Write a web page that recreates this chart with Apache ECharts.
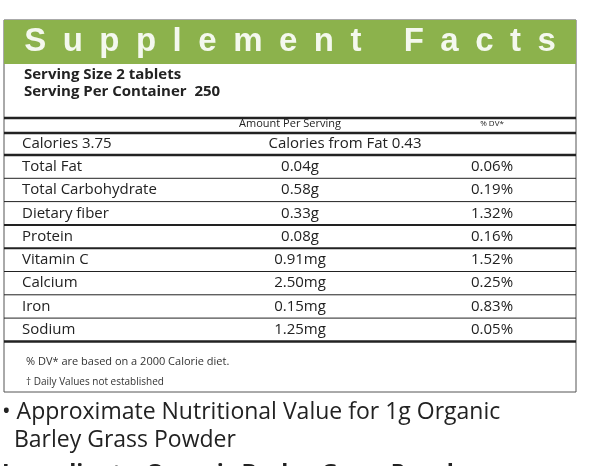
<!DOCTYPE html>
<html><head><meta charset="utf-8">
<script src="https://cdn.jsdelivr.net/npm/echarts@6/dist/echarts.min.js"></script>
<style>html,body{margin:0;padding:0;background:#fff}#c{width:600px;height:466px}</style>
</head><body><div id="c"></div>
<script>
const title = 'Supplement Facts';
const servingLines = ['Serving Size 2 tablets', 'Serving Per Container  250'];
const nutrients = ['Total Fat','Total Carbohydrate','Dietary fiber','Protein','Vitamin C','Calcium','Iron','Sodium'];
const amounts = ['0.04g','0.58g','0.33g','0.08g','0.91mg','2.50mg','0.15mg','1.25mg'];
const dvs = ['0.06%','0.19%','1.32%','0.16%','1.52%','0.25%','0.83%','0.05%'];
const calories = 'Calories 3.75';
const caloriesFat = 'Calories from Fat 0.43';
const footnotes = ['% DV* are based on a 2000 Calorie diet.', '† Daily Values not established'];
const notes = ['• Approximate Nutritional Value for 1g Organic', '  Barley Grass Powder'];
const thickAfter = [2, 3];

const F = 'Open Sans, Lato, sans-serif';
const g = [];
const L = 4, R = 576;
g.push({type:'rect',shape:{x:L,y:20,width:R-L,height:372},style:{fill:'#fff',stroke:'#555',lineWidth:1}});
g.push({type:'rect',shape:{x:L,y:20,width:R-L,height:44},style:{fill:'#8cb24c'}});
g.push({type:'text',x:290,y:42,style:{text:title.split('').join('\u2002'),fill:'#f4f8ee',font:'bold 33px Liberation Sans, Arial',align:'center',verticalAlign:'middle'}});
servingLines.forEach((s,i)=>g.push({type:'text',x:24,y:75+i*17,style:{text:s,fill:'#222',font:'bold 15px '+F,verticalAlign:'middle'}}));
function line(y,w){g.push({type:'line',shape:{x1:L,y1:y,x2:R,y2:y},style:{stroke:'#222',lineWidth:w}});}
line(118,2.5);
g.push({type:'text',x:290,y:124,style:{text:'Amount Per Serving',fill:'#222',font:'11px '+F,align:'center',verticalAlign:'middle'}});
g.push({type:'text',x:492,y:124,style:{text:'% DV*',fill:'#222',font:'8px '+F,align:'center',verticalAlign:'middle'}});
line(133,2.5);
g.push({type:'text',x:22,y:144,style:{text:calories,fill:'#222',font:'15px '+F,verticalAlign:'middle'}});
g.push({type:'text',x:345,y:144,style:{text:caloriesFat,fill:'#222',font:'15px '+F,align:'center',verticalAlign:'middle'}});
line(155,2.5);
const rh = 23.3;
nutrients.forEach((n,i)=>{
  const y = 155 + rh*i + rh/2;
  g.push({type:'text',x:22,y:y,style:{text:n,fill:'#222',font:'15px '+F,verticalAlign:'middle'}});
  g.push({type:'text',x:300,y:y,style:{text:amounts[i],fill:'#222',font:'15px '+F,align:'center',verticalAlign:'middle'}});
  g.push({type:'text',x:492,y:y,style:{text:dvs[i],fill:'#222',font:'15px '+F,align:'center',verticalAlign:'middle'}});
  const yb = 155 + rh*(i+1);
  line(yb, i===nutrients.length-1 ? 2.5 : (thickAfter.includes(i) ? 2 : 1));
});
footnotes.forEach((f,i)=>g.push({type:'text',x:26,y:362+i*20,style:{text:f,fill:'#333',font:(i?'10px ':'11px ')+F,verticalAlign:'middle'}}));
notes.forEach((t,i)=>g.push({type:'text',x:2,y:412+i*28,style:{text:t,fill:'#222',font:'23px '+F,verticalAlign:'middle'}}));
g.push({type:'text',x:2,y:474,style:{text:'Ingredients: Organic Barley Grass Powder',fill:'#222',font:'bold 23px '+F,verticalAlign:'middle'}});
const chart = echarts.init(document.getElementById('c'));
chart.setOption({animation:false,graphic:g});
</script></body></html>
